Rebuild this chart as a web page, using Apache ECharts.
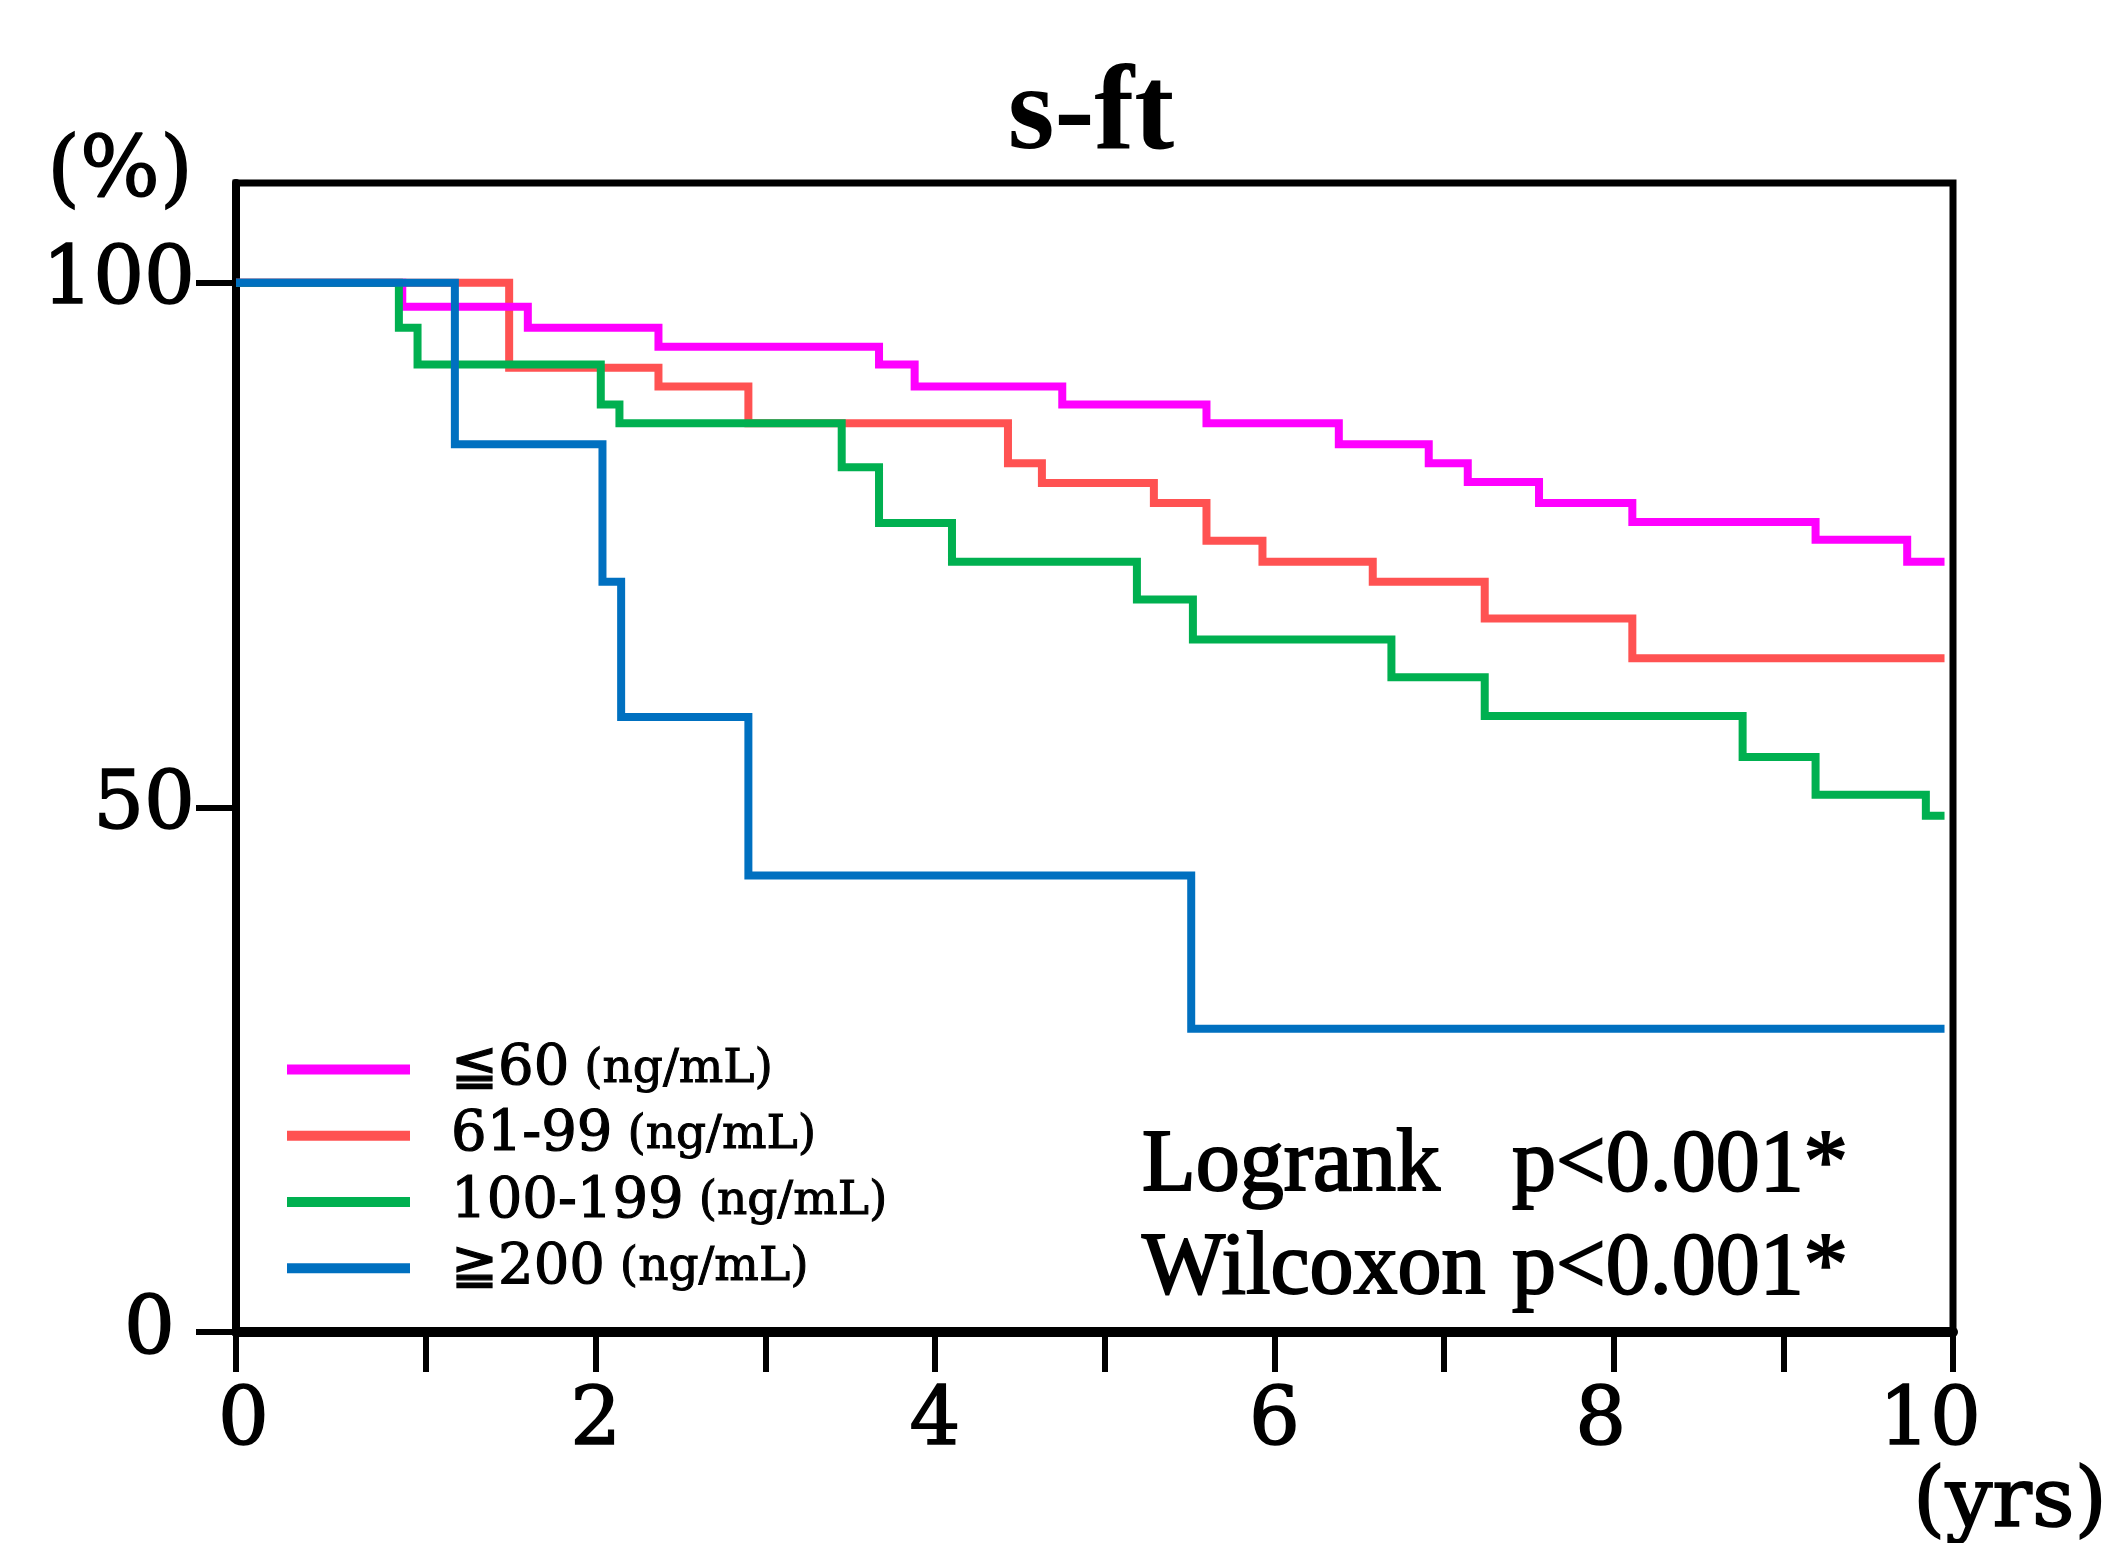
<!DOCTYPE html>
<html>
<head>
<meta charset="utf-8">
<script src="https://cdn.jsdelivr.net/npm/echarts@6/dist/echarts.min.js"></script>
<style>
html,body{margin:0;padding:0;background:#fff;}
#chart{width:2112px;height:1543px;}
</style>
</head>
<body>
<div id="chart"></div>
<script>
// ---- data ----
const titleText = 's-ft';
const groupNames = ['≦60', '61-99', '100-199', '≧200'];
const groupUnit = '(ng/mL)';
const groupColors = ['#FF00FF', '#FF5252', '#00B050', '#0070C0'];

const le60Times = [0, 0.86, 1.60, 2.37, 3.67, 3.88, 4.75, 5.60, 6.38, 6.91, 7.14, 7.56, 8.11, 9.19, 9.73, 9.95];
const le60Surv  = [100, 97.7, 95.7, 93.9, 92.2, 90.1, 88.4, 86.6, 84.6, 82.8, 81.0, 79.0, 77.2, 75.5, 73.4, 73.4];

const g61Times = [0, 1.49, 2.37, 2.90, 4.43, 4.63, 5.29, 5.60, 5.93, 6.58, 7.24, 8.11, 9.95];
const g61Surv  = [100, 91.9, 90.1, 86.6, 82.8, 80.9, 79.0, 75.4, 73.4, 71.5, 68.0, 64.2, 64.2];

const g100Times = [0, 0.84, 0.95, 2.03, 2.14, 3.45, 3.67, 4.10, 5.19, 5.52, 6.69, 7.24, 8.76, 9.19, 9.84, 9.95];
const g100Surv  = [100, 95.7, 92.2, 88.4, 86.6, 82.4, 77.1, 73.4, 69.8, 66.0, 62.4, 58.7, 54.8, 51.2, 49.2, 49.2];

const ge200Times = [0, 1.17, 2.04, 2.15, 2.90, 5.51, 9.95];
const ge200Surv  = [100, 84.6, 71.5, 58.6, 43.5, 28.9, 28.9];

const xTickValues = [1, 2, 3, 4, 5, 6, 7, 8, 9, 10];
const xLabelValues = [0, 2, 4, 6, 8, 10];
const yTickValues = [0, 50, 100];
const statNames = ['Logrank', 'Wilcoxon'];
const statValues = ['p<0.001*', 'p<0.001*'];
const yUnit = '(%)';
const xUnit = '(yrs)';

// ---- chart ----
const X_MIN = -0.12, X_MAX = 10, Y_MIN = 0, Y_MAX = 109.5;
const timesList = [le60Times, g61Times, g100Times, ge200Times];
const survList = [le60Surv, g61Surv, g100Surv, ge200Surv];
const zOrder = [3, 2, 4, 5];

function curve(times, surv) {
  // KM curve drawn from the axis origin
  return times.map((t, i) => [t === 0 ? X_MIN : t, surv[i]]);
}

const series = groupNames.map((name, i) => ({
  name: name,
  type: 'line',
  step: 'end',
  data: curve(timesList[i], survList[i]),
  symbol: 'none',
  z: zOrder[i],
  color: groupColors[i],
  itemStyle: { color: groupColors[i] },
  lineStyle: { color: groupColors[i], width: 8, join: 'miter', cap: 'butt' },
  emphasis: { disabled: true },
  animation: false
}));

const axisFont = 'DejaVu Serif';
const tickFont = { fontFamily: axisFont, fontSize: 80, color: '#000', textBorderColor: '#000', textBorderWidth: 1.6 };
// small horizontal nudges of some x labels (as placed in the reference)
const xLabelRich = {
  n: Object.assign({}, tickFont),
  l0: Object.assign({}, tickFont, { padding: [0, 26, 0, 0] }),
  l8: Object.assign({}, tickFont, { padding: [0, 26, 0, 0] }),
  l10: Object.assign({}, tickFont, { padding: [0, 46, 0, 0] })
};
const yLabelRich = {
  n: Object.assign({}, tickFont),
  z: Object.assign({}, tickFont, { padding: [0, 20, 0, 0] })
};

const chart = echarts.init(document.getElementById('chart'), null, { renderer: 'canvas' });
const option = {
  backgroundColor: '#ffffff',
  animation: false,
  grid: {
    left: 236, right: 159, top: 183, bottom: 211,
    show: true, borderColor: '#000', borderWidth: 7,
    containLabel: false, outerBoundsMode: 'none'
  },
  xAxis: {
    type: 'value', min: X_MIN, max: X_MAX,
    axisLine: { show: true, onZero: false, lineStyle: { color: '#000', width: 10 } },
    axisTick: { show: true, inside: false, length: 40, customValues: [X_MIN].concat(xTickValues),
      lineStyle: { color: '#000', width: 6 } },
    axisLabel: { show: true, customValues: xLabelValues, margin: 51,
      fontFamily: axisFont, fontSize: 80, color: '#000',
      formatter: (v) => {
        const key = 'l' + v;
        return '{' + (xLabelRich[key] ? key : 'n') + '|' + v + '}';
      },
      rich: xLabelRich },
    splitLine: { show: false }
  },
  yAxis: {
    type: 'value', min: Y_MIN, max: Y_MAX,
    axisLine: { show: true, onZero: false, lineStyle: { color: '#000', width: 8 } },
    axisTick: { show: true, inside: false, length: 40, customValues: yTickValues,
      lineStyle: { color: '#000', width: 6 } },
    axisLabel: { show: true, customValues: yTickValues, margin: 41,
      fontFamily: axisFont, fontSize: 80, color: '#000',
      formatter: (v) => '{' + (v === 0 ? 'z' : 'n') + '|' + v + '}',
      rich: yLabelRich },
    splitLine: { show: false }
  },
  legend: {
    orient: 'vertical', left: 287, top: 1041, padding: 0,
    itemWidth: 123, itemHeight: 10, itemGap: 9, icon: 'rect',
    selectedMode: false,
    data: groupNames,
    formatter: (name) => '{a|' + name + '}{b| ' + groupUnit + '}',
    textStyle: {
      color: '#000',
      rich: {
        a: { fontFamily: axisFont, fontSize: 56, color: '#000', lineHeight: 62, padding: [0, 0, 0, 36],
             textBorderColor: '#000', textBorderWidth: 1.2 },
        b: { fontFamily: axisFont, fontSize: 47, color: '#000', lineHeight: 62,
             textBorderColor: '#000', textBorderWidth: 1 }
      }
    }
  },
  graphic: [
    { type: 'text', x: 1091, y: 117, z: 10,
      style: { text: titleText, align: 'center', verticalAlign: 'middle',
        font: 'bold 120px "Liberation Serif"', fill: '#000' } },
    { type: 'text', x: 120, y: 174, z: 10,
      style: { text: yUnit, align: 'center', verticalAlign: 'middle',
        font: '84px "DejaVu Serif"', fill: '#000', stroke: '#000', lineWidth: 1.5 } },
    { type: 'text', x: 2010, y: 1504, z: 10,
      style: { text: xUnit, align: 'center', verticalAlign: 'middle',
        font: '83px "DejaVu Serif"', fill: '#000', stroke: '#000', lineWidth: 1.6 } },
    { type: 'text', x: 1142, y: 1167, z: 10,
      style: { text: statNames[0], align: 'left', verticalAlign: 'middle',
        font: '88px "Liberation Serif"', fill: '#000', stroke: '#000', lineWidth: 2 } },
    { type: 'text', x: 1512, y: 1167, z: 10,
      style: { text: statValues[0], align: 'left', verticalAlign: 'middle',
        font: '88px "Liberation Serif"', fill: '#000', stroke: '#000', lineWidth: 2 } },
    { type: 'text', x: 1142, y: 1270, z: 10,
      style: { text: statNames[1], align: 'left', verticalAlign: 'middle',
        font: '88px "Liberation Serif"', fill: '#000', stroke: '#000', lineWidth: 2 } },
    { type: 'text', x: 1512, y: 1270, z: 10,
      style: { text: statValues[1], align: 'left', verticalAlign: 'middle',
        font: '88px "Liberation Serif"', fill: '#000', stroke: '#000', lineWidth: 2 } }
  ],
  series: series
};
chart.setOption(option);
</script>
</body>
</html>
